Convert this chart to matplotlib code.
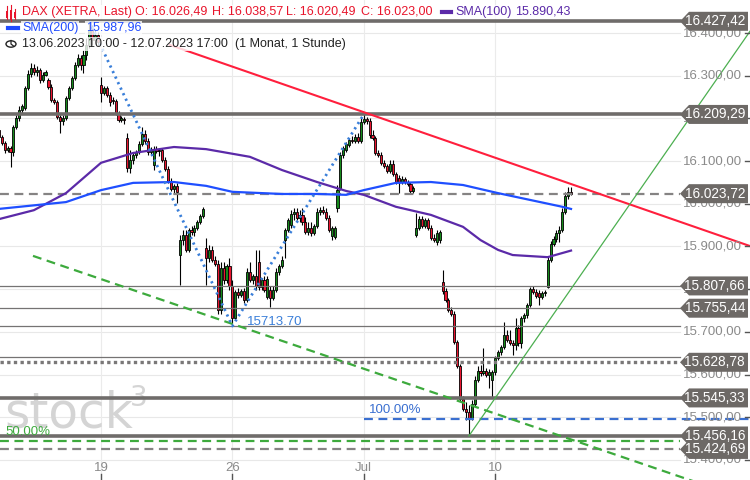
import numpy as np
import pandas as pd
import matplotlib
matplotlib.use("Agg")
import matplotlib.pyplot as plt
import matplotlib.transforms as mtransforms
from matplotlib.patches import Polygon, Rectangle, Circle

plt.rcParams['font.family'] = ['Liberation Sans', 'DejaVu Sans']

# DAX Stundenkerzen 13.06.2023 10:00 - 12.07.2023 17:00
opens = [16173, 16156, 16142, 16126, 16131, 16121, 16180, 16201,
         16220, 16224, 16271, 16304, 16318, 16309, 16313, 16290, 16302,
         16290, 16274, 16243, 16238, 16203, 16194, 16201, 16248, 16271,
         16295, 16325, 16342, 16325, 16349, 16372, 16407, 16384, 16395,
         16278, 16260, 16271, 16255, 16243, 16241, 16213, 16196, 16199,
         16154, 16084, 16103, 16114, 16121, 16140, 16164, 16147, 16121,
         16091, 16128, 16124, 16126, 16103, 16082, 16053, 16035, 16042,
         15880, 15915, 15927, 15892, 15939, 15934, 15943, 15957, 15971,
         15897, 15873, 15892, 15868, 15859, 15751, 15850, 15822, 15854,
         15808, 15733, 15793, 15786, 15796, 15775, 15840, 15822, 15831,
         15864, 15805, 15822, 15782, 15798, 15779, 15798, 15840, 15854,
         15915, 15939, 15950, 15976, 15981, 15967, 15974, 15957, 15934,
         15943, 15932, 15948, 15981, 15986, 15981, 15967, 15925, 15922,
         15990, 16037, 16114, 16126, 16138, 16149, 16147, 16156, 16147,
         16192, 16199, 16194, 16161, 16154, 16119, 16114, 16096, 16089,
         16077, 16093, 16070, 16060, 16051, 16058, 16051, 16046, 16030,
         15927, 15943, 15964, 15948, 15962, 15943, 15920, 15911, 15915,
         15817, 15796, 15775, 15751, 15742, 15676, 15620, 15543, 15519,
         15512, 15498, 15531, 15587, 15608, 15604, 15608, 15599, 15587,
         15606, 15639, 15653, 15665, 15693, 15681, 15674, 15669, 15709,
         15674, 15733, 15740, 15763, 15800, 15793, 15791, 15782, 15791,
         15805, 15868, 15906, 15918, 15932, 15939, 15981, 16018, 16026.49]
highs = [16178, 16161, 16147, 16135, 16135, 16185, 16208, 16229,
         16234, 16276, 16313, 16330, 16327, 16323, 16318, 16309, 16313,
         16295, 16281, 16248, 16243, 16208, 16208, 16252, 16276, 16299,
         16332, 16351, 16349, 16360, 16388, 16427.42, 16419, 16407, 16402,
         16297, 16276, 16276, 16262, 16250, 16245, 16217, 16206, 16203,
         16166, 16126, 16121, 16126, 16147, 16180, 16173, 16154, 16133,
         16135, 16135, 16131, 16131, 16110, 16089, 16060, 16046, 16049,
         15927, 15939, 15939, 15943, 15948, 15950, 15962, 15976, 15992,
         15920, 15904, 15901, 15878, 15868, 15864, 15864, 15859, 15873,
         15822, 15798, 15803, 15801, 15803, 15850, 15864, 15836, 15892,
         15892, 15826, 15831, 15831, 15808, 15808, 15850, 15859, 15878,
         15943, 15967, 15986, 15990, 15990, 15986, 15990, 15969, 15957,
         15957, 15953, 15990, 15992, 15995, 15990, 15974, 15948, 15948,
         16044, 16121, 16135, 16145, 16154, 16159, 16163, 16166, 16201,
         16209.29, 16203, 16201, 16173, 16159, 16126, 16121, 16103, 16093,
         16103, 16103, 16075, 16068, 16065, 16063, 16056, 16051, 16042,
         15979, 15971, 15971, 15967, 15967, 15950, 15929, 15939, 15939,
         15845, 15803, 15779, 15758, 15749, 15681, 15625, 15550, 15536,
         15529, 15541, 15597, 15620, 15622, 15662, 15615, 15613, 15611,
         15643, 15658, 15669, 15723, 15704, 15704, 15681, 15733, 15716,
         15737, 15744, 15768, 15805, 15808, 15801, 15798, 15796, 15798,
         15878, 15913, 15925, 15939, 15948, 15990, 16028, 16039, 16038.57]
lows = [16149, 16138, 16119, 16121, 16086, 16112, 16175, 16194,
        16213, 16220, 16267, 16297, 16302, 16299, 16283, 16285, 16299,
        16269, 16238, 16234, 16199, 16166, 16185, 16196, 16243, 16267,
        16290, 16320, 16313, 16306, 16337, 16365, 16372, 16374, 16370,
        16238, 16255, 16250, 16229, 16234, 16208, 16192, 16192, 16187,
        16075, 16072, 16093, 16107, 16117, 16135, 16140, 16114, 16117,
        16079, 16119, 16112, 16098, 16077, 16049, 16030, 16023, 16002,
        15810, 15904, 15887, 15887, 15927, 15925, 15939, 15953, 15967,
        15810, 15864, 15864, 15854, 15742, 15742, 15812, 15815, 15798,
        15713.70, 15728, 15779, 15782, 15768, 15770, 15817, 15812, 15798,
        15798, 15798, 15793, 15777, 15758, 15775, 15793, 15833, 15850,
        15873, 15934, 15943, 15962, 15962, 15957, 15950, 15929, 15927,
        15925, 15927, 15943, 15974, 15976, 15962, 15934, 15915, 15918,
        15981, 16032, 16107, 16121, 16133, 16142, 16142, 16142, 16142,
        16187, 16187, 16154, 16149, 16114, 16110, 16091, 16084, 16072,
        16072, 16065, 16046, 16025, 16046, 16046, 16042, 16025, 16025,
        15922, 15939, 15943, 15943, 15939, 15915, 15911, 15904, 15908,
        15789, 15770, 15747, 15737, 15672, 15616, 15538, 15515, 15494,
        15456.16, 15494, 15526, 15583, 15597, 15599, 15594, 15569, 15548,
        15599, 15634, 15646, 15660, 15676, 15669, 15646, 15658, 15667,
        15662, 15723, 15733, 15758, 15789, 15779, 15763, 15777, 15784,
        15803, 15864, 15901, 15911, 15911, 15934, 15976, 16011, 16020.49]
closes = [16156, 16142, 16126, 16131, 16121, 16180, 16201, 16220,
          16229, 16271, 16304, 16318, 16309, 16313, 16290, 16302, 16309,
          16274, 16243, 16238, 16203, 16194, 16201, 16248, 16271, 16295,
          16325, 16342, 16325, 16349, 16372, 16407, 16384, 16395, 16379,
          16260, 16271, 16255, 16238, 16241, 16213, 16196, 16201, 16196,
          16084, 16103, 16114, 16121, 16140, 16164, 16147, 16121, 16126,
          16128, 16124, 16126, 16103, 16082, 16053, 16035, 16042, 16028,
          15915, 15927, 15892, 15939, 15934, 15943, 15957, 15971, 15988,
          15873, 15892, 15868, 15859, 15751, 15850, 15822, 15854, 15808,
          15733, 15793, 15786, 15796, 15775, 15840, 15822, 15831, 15808,
          15805, 15822, 15798, 15824, 15779, 15798, 15840, 15854, 15868,
          15939, 15962, 15976, 15981, 15967, 15974, 15957, 15934, 15943,
          15932, 15948, 15981, 15986, 15981, 15967, 15939, 15943, 15943,
          16032, 16114, 16131, 16140, 16149, 16147, 16156, 16147, 16192,
          16199, 16194, 16161, 16154, 16119, 16114, 16096, 16089, 16077,
          16093, 16070, 16051, 16051, 16058, 16051, 16046, 16030, 16037,
          15943, 15964, 15948, 15962, 15943, 15920, 15915, 15932, 15934,
          15796, 15775, 15751, 15742, 15676, 15620, 15543, 15519, 15512,
          15498, 15531, 15587, 15608, 15604, 15608, 15599, 15606, 15606,
          15639, 15653, 15665, 15693, 15681, 15674, 15669, 15709, 15674,
          15733, 15740, 15763, 15800, 15793, 15784, 15782, 15791, 15793,
          15868, 15906, 15918, 15932, 15939, 15981, 16018, 16026.49, 16023.00]

# gleitende Durchschnitte (Stuetzpunkte: Kerzen-Nr., Wert)
sma200_bar = [0, 23, 35, 46, 60, 71, 80, 97, 109, 119, 125, 136, 148, 159, 171, 182, 193, 196]
sma200_val = [15988, 16004, 16032, 16049, 16051, 16042, 16028, 16023, 16023, 16021,
              16032, 16049, 16051, 16044, 16025, 16009, 15993, 15987.96]
sma100_bar = [0, 12, 23, 35, 46, 60, 71, 86, 97, 109, 119, 125, 136, 148, 159, 165, 171, 176, 188, 196]
sma100_val = [15964, 15985, 16025, 16096, 16119, 16133, 16128, 16110, 16079, 16051,
              16030, 16021, 15993, 15974, 15946, 15915, 15892, 15880, 15875, 15890.43]

# Marken
thick_levels = [16427.42, 16209.29, 15545.33, 15456.16]
dashed_levels = [16023.72, 15424.69]
thin_levels = [15807.66, 15755.44]
plain_levels = [15713.70, 15642.0]
dotted_level = 15628.78
label_levels = [16427.42, 16209.29, 16023.72, 15807.66, 15755.44, 15628.78, 15545.33, 15456.16, 15424.69]
fib_100 = 15497.0
fib_50 = 15444.5
zigzag_bar = [31, 80, 125]
zigzag_val = [16427.42, 15713.70, 16209.29]
red_bar = [58.6, 257.3]
red_val = [16372, 15901]
green_bar = [161, 257.3]
green_val = [15456.16, 16404]
gdash_bar = [11.7, 257.3]
gdash_val = [15878, 15305]

week_days = ["2023-06-19", "2023-06-26", "2023-07-03", "2023-07-10"]
week_labels = ["19", "26", "Jul", "10"]
y_ticks = list(range(15400, 16401, 100))


def de(v):
    s = f"{v:,.2f}"
    return s.replace(",", "X").replace(".", ",").replace("X", ".")


days = pd.bdate_range("2023-06-13", "2023-07-12")
times = [d + pd.Timedelta(hours=hr) for d in days for hr in range(9, 18)][1:]
times = pd.DatetimeIndex(times)

o = np.array(opens); h = np.array(highs); l = np.array(lows); c = np.array(closes)
x = np.arange(len(c))

fig = plt.figure(figsize=(7.5, 4.8), dpi=100)
ax = fig.add_axes([0, 0, 1, 1])
ax.set_xlim(0.4, 257.3)
ax.set_ylim(15353.1, 16477.3)
ax.axis('off')
bl = mtransforms.blended_transform_factory(ax.transAxes, ax.transData)
bx = mtransforms.blended_transform_factory(ax.transData, ax.transAxes)
right = 680 / 750

# Gitter
for v in y_ticks:
    ax.plot([0, right], [v, v], transform=bl, color='#e8e8e8', lw=0.8, zorder=1)
tick_pos = [int(np.where(times == pd.Timestamp(d) + pd.Timedelta(hours=9))[0][0]) for d in week_days]
for p in tick_pos:
    ax.axvline(p, color='#ebebeb', lw=0.8, zorder=1)

# Wasserzeichen
ax.text(4 / 750, 1 - 428 / 480, "stock", transform=ax.transAxes, fontsize=35,
        color='#d4d4d4', va='baseline', family='DejaVu Sans', zorder=1)
ax.text(130 / 750, 1 - 406 / 480, "3", transform=ax.transAxes, fontsize=20,
        color='#d4d4d4', va='baseline', family='DejaVu Sans', zorder=1)

# Linien
for v in thick_levels:
    ax.plot([0, right], [v, v], transform=bl, color='#6f6c6a', lw=2.6, zorder=4)
for v in dashed_levels:
    ax.plot([0, right], [v, v], transform=bl, color='#858383', lw=1.6, ls=(0, (4, 2.5)), zorder=4)
for v in thin_levels + plain_levels:
    ax.plot([0, right], [v, v], transform=bl, color='#757373', lw=0.9, zorder=4)
ax.plot([0, right], [dotted_level, dotted_level], transform=bl, color='#7a7878', lw=2.4,
        ls=(0, (1, 1)), zorder=4)
ax.plot([125, 257.3], [fib_100, fib_100], color='#3a6fd0', lw=1.6, ls=(0, (4, 2.5)), zorder=4)
ax.plot([0, right], [fib_50, fib_50], transform=bl, color='#3daa3d', lw=1.6, ls=(0, (4, 2.5)), zorder=4)
ax.text(369 / 750, fib_100 + 19, "100.00%", transform=bl, color='#3a6fd0', fontsize=9.5, va='center', zorder=6)
ax.text(5 / 750, fib_50 + 22, "50.00%", transform=bl, color='#3daa3d', fontsize=9.5, va='center', zorder=6)

# Kerzen
up = c >= o
lo = np.minimum(o, c)
hh = np.maximum(np.abs(c - o), 1.2)
ax.vlines(x, l, h, color='black', lw=0.8, zorder=3)
ax.bar(x[up], hh[up], bottom=lo[up], width=0.72, color='#168a1c', edgecolor='black', lw=0.6, zorder=3)
ax.bar(x[~up], hh[~up], bottom=lo[~up], width=0.72, color='#ea1530', edgecolor='black', lw=0.6, zorder=3)

# SMA
ax.plot(sma100_bar, sma100_val, color='#5b2aa8', lw=1.6, zorder=5)
ax.plot(sma200_bar, sma200_val, color='#1f4fff', lw=1.6, zorder=5)

# Trendlinien
ax.plot(red_bar, red_val, color='#ff1f3d', lw=1.5, zorder=5)
ax.plot(green_bar, green_val, color='#4caf50', lw=0.9, zorder=5)
ax.plot(gdash_bar, gdash_val, color='#3daa3d', lw=1.6, ls=(0, (4, 2.5)), zorder=5)
ax.plot(zigzag_bar, zigzag_val, color='#3a7fd9', lw=2, ls=(0, (0.8, 1.4)), zorder=5)
ax.text(85, 15723, "15713.70", color='#3a7fd9', fontsize=9.5, va='center', zorder=6)

# rechte Achse
for v in y_ticks:
    ax.text(742 / 750, v, de(v), transform=bl, ha='right', va='center', fontsize=9.5,
            color='#8a8a8a', zorder=6)
    ax.plot([745 / 750, 1], [v, v], transform=bl, color='#555555', lw=1, zorder=6)
half = 9.5 * 2.342
for v in label_levels:
    pts = [(680 / 750, v), (689 / 750, v + half), (748 / 750, v + half),
           (748 / 750, v - half), (689 / 750, v - half)]
    ax.add_patch(Polygon(pts, closed=True, transform=bl, fc='#6d6966', ec='none', zorder=7))
    ax.text(745 / 750, v, de(v), transform=bl, ha='right', va='center', fontsize=9.8,
            color='white', zorder=8)

# untere Achse
for p, lab in zip(tick_pos, week_labels):
    ax.text(p, 1 - 468 / 480, lab, transform=bx, ha='center', va='center', fontsize=9.5,
            color='#8a8a8a', zorder=6)
    ax.plot([p, p], [0, 6 / 480], transform=bx, color='#555555', lw=1, zorder=6)

# Kopfzeile
def px(xp, yp):
    return xp / 750, 1 - yp / 480


fs = 9.0
wb = dict(fc='white', ec='none', alpha=0.8, pad=0.6)
red = '#e8142b'
for xp, s in [(22, "DAX (XETRA, Last)"), (135, "O: 16.026,49"), (212, "H: 16.038,57"),
              (286, "L: 16.020,49"), (361, "C: 16.023,00")]:
    fig.text(*px(xp, 12), s, color=red, fontsize=fs, va='center', bbox=wb, zorder=9)
for xo, hgt, ob in [(6, 7, 2), (10, 10, 1), (14, 6, 3)]:
    ax.add_patch(Rectangle(px(xo, 9 + ob + hgt), 2.2 / 750, hgt / 480, transform=ax.transAxes,
                           fc=red, ec='none', zorder=9))
ax.plot([7.1 / 750, 7.1 / 750], [1 - 6 / 480, 1 - 19 / 480], transform=ax.transAxes, color=red, lw=0.8, zorder=9)
ax.plot([11.1 / 750, 11.1 / 750], [1 - 5 / 480, 1 - 21 / 480], transform=ax.transAxes, color=red, lw=0.8, zorder=9)
ax.plot([15.1 / 750, 15.1 / 750], [1 - 9 / 480, 1 - 19 / 480], transform=ax.transAxes, color=red, lw=0.8, zorder=9)

purple = '#5b2aa8'
ax.plot([442 / 750, 451 / 750], [1 - 12 / 480] * 2, transform=ax.transAxes, color=purple, lw=3, zorder=9)
fig.text(*px(455, 12), "SMA(100)", color=purple, fontsize=fs, va='center', bbox=wb, zorder=9)
fig.text(*px(515, 12), "15.890,43", color=purple, fontsize=fs, va='center', bbox=wb, zorder=9)

blue = '#1f4bff'
ax.plot([8 / 750, 18 / 750], [1 - 28 / 480] * 2, transform=ax.transAxes, color=blue, lw=3, zorder=9)
fig.text(*px(22, 28), "SMA(200)", color=blue, fontsize=fs, va='center', bbox=wb, zorder=9)
fig.text(*px(86, 28), "15.987,96", color=blue, fontsize=fs, va='center', bbox=wb, zorder=9)

ax.add_patch(Circle(px(11, 44), 5 / 750, transform=ax.transAxes, fc='white', ec='#222222', lw=1, zorder=9))
ax.plot([11 / 750, 11 / 750, 13.5 / 750], [1 - 40.5 / 480, 1 - 44 / 480, 1 - 46 / 480],
        transform=ax.transAxes, color='#222222', lw=0.9, zorder=10)
fig.text(*px(22, 44), "13.06.2023 10:00 - 12.07.2023 17:00", color='#222222', fontsize=fs,
         va='center', bbox=wb, zorder=9)
fig.text(*px(235, 44), "(1 Monat, 1 Stunde)", color='#222222', fontsize=fs, va='center',
         bbox=wb, zorder=9)

fig.savefig("out.png", dpi=100)
